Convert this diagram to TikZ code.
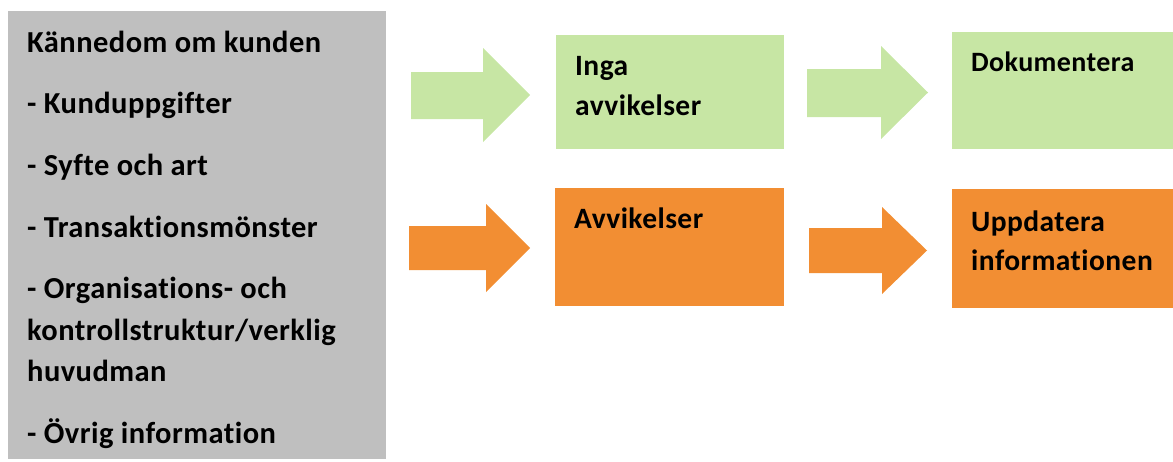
\documentclass[tikz,border=0pt]{standalone}
\usepackage{fontspec}
\setmainfont{Carlito}[Ligatures=CommonOff, LetterSpace=1.5]
\definecolor{gbox}{HTML}{BFBFBF}
\definecolor{lgreen}{HTML}{C7E6A4}
\definecolor{orng}{HTML}{F28E33}
\begin{document}
\begin{tikzpicture}[x=1pt,y=-1pt,
  txt/.style={anchor=base west, inner sep=0pt, font=\fontsize{30.5}{36}\selectfont\bfseries},
  txts/.style={anchor=base west, inner sep=0pt, font=\fontsize{29.5}{34}\selectfont\bfseries},
  txtd/.style={anchor=base west, inner sep=0pt, font=\fontsize{28}{33}\selectfont\bfseries},
  boxn/.style={anchor=north west, inner sep=0pt, draw=none}]
\useasboundingbox (0,0) rectangle (1173,461);
% left gray panel
\node[boxn, fill=gbox, minimum width=378.5pt, minimum height=448pt] (panel) at (7.5,11) {};
\node[txt] (t1) at (27,52.3) {Kännedom om kunden};
\node[txt] (t2) at (27,113.5) {- Kunduppgifter};
\node[txt] (t3) at (27,175) {- Syfte och art};
\node[txt] (t4) at (27,237) {- Transaktionsmönster};
\node[txt] (t5) at (27,298.5) {- Organisations- och};
\node[txt] (t6) at (27,340) {kontrollstruktur/verklig};
\node[txt] (t7) at (27,381.5) {huvudman};
\node[txt] (t8) at (27,443) {- Övrig information};
% boxes
\node[boxn, fill=lgreen, minimum width=228pt, minimum height=114pt] (g1) at (556,35) {};
\node[boxn, fill=orng, minimum width=229pt, minimum height=118pt] (o1) at (555,188) {};
\node[boxn, fill=lgreen, minimum width=221pt, minimum height=117pt] (g2) at (952,32) {};
\node[boxn, fill=orng, minimum width=221pt, minimum height=119pt] (o2) at (952,189) {};
% box texts
\node[txts] (g1a) at (575,75) {Inga};
\node[txts] (g1b) at (575,115) {avvikelser};
\node[txts] (o1a) at (574,228) {Avvikelser};
\node[txtd] (g2a) at (971,71) {Dokumentera};
\node[txts] (o2a) at (971,231) {Uppdatera};
\node[txts] (o2b) at (971,270) {informationen};
% block arrows
\fill[lgreen] (411,72) -- (483,72) -- (483,48) -- (530,95) -- (483,142) -- (483,119) -- (411,119) -- cycle;
\fill[orng] (409,226) -- (486,226) -- (486,204) -- (530,248) -- (486,292) -- (486,270) -- (409,270) -- cycle;
\fill[lgreen] (807,69) -- (881,69) -- (881,46) -- (928,92.5) -- (881,139) -- (881,117) -- (807,117) -- cycle;
\fill[orng] (809,228) -- (882,228) -- (882,207) -- (927,250.5) -- (882,294) -- (882,273) -- (809,273) -- cycle;
\end{tikzpicture}
\end{document}
